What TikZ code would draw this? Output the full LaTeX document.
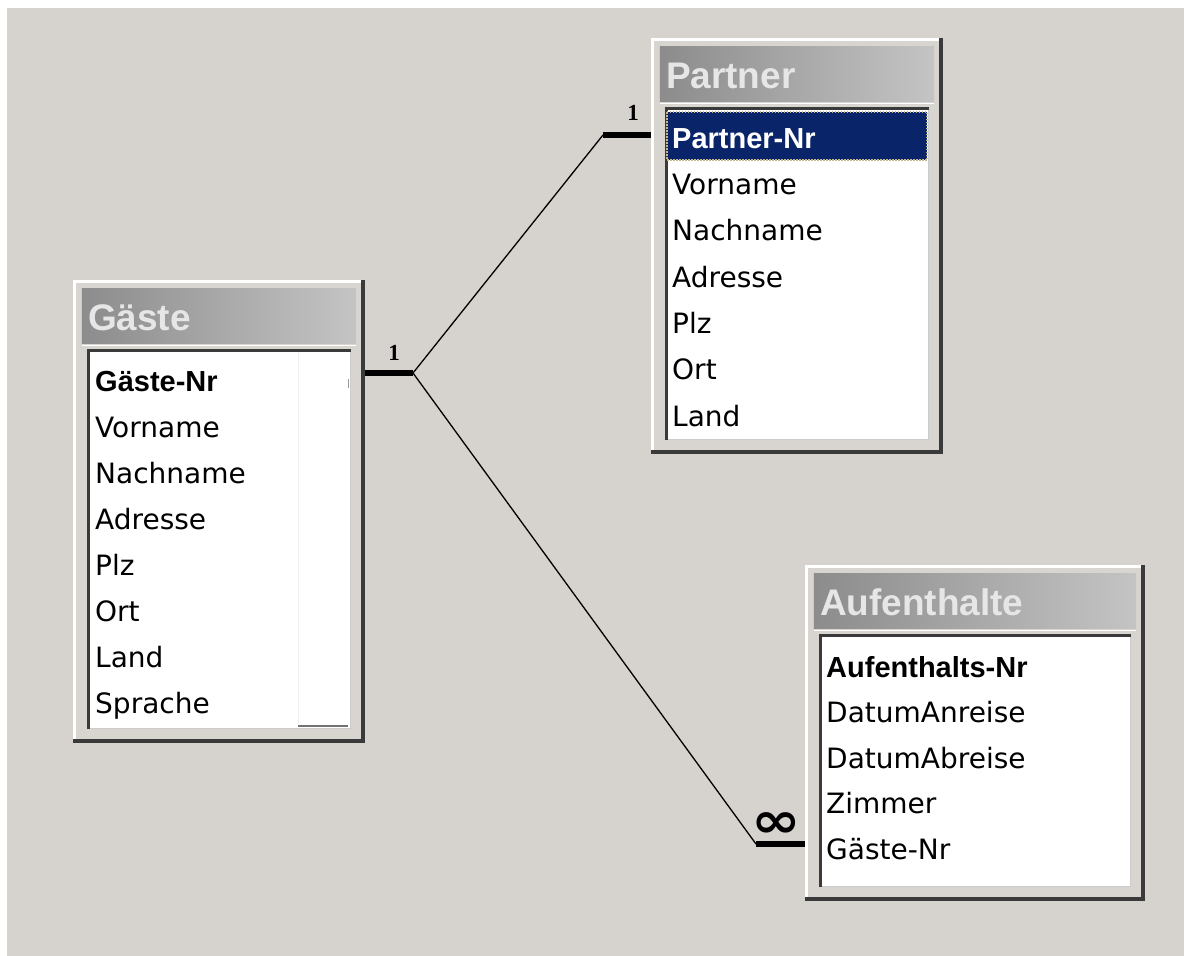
\documentclass[tikz,border=0pt]{standalone}
\usepackage{fontspec}
\setmainfont{DejaVu Sans}
\newfontfamily\lsans{Liberation Sans}
\newfontfamily\lserif{Liberation Serif}
\usetikzlibrary{calc,fit}
\definecolor{bg}{HTML}{D6D2CE}
\definecolor{face}{HTML}{D8D4D0}
\definecolor{darkedge}{HTML}{3A3A3A}
\definecolor{tleft}{HTML}{8C8C8C}
\definecolor{tright}{HTML}{C4C4C4}
\definecolor{ttext}{HTML}{E6E6E6}
\definecolor{selblue}{HTML}{0A246A}
\definecolor{focusdot}{HTML}{C8B890}
\tikzset{
  field/.style={anchor=base west, inner sep=0pt, font=\fontsize{28}{30}\selectfont, text=black},
  keyfield/.style={anchor=base west, inner sep=0pt, font=\lsans\bfseries\fontsize{29}{30}\selectfont, text=black},
  titletext/.style={anchor=base west, inner sep=0pt, font=\lsans\bfseries\fontsize{37}{40}\selectfont, text=ttext},
  relbar/.style={line width=6.5pt, black},
  relline/.style={line width=1.3pt, black},
  cardlabel/.style={inner sep=0pt, font=\lserif\bfseries\fontsize{23}{23}\selectfont},
  manylabel/.style={inner sep=0pt, font=\bfseries\fontsize{34}{34}\selectfont},
}
\newcommand\tablewin[4]{%
  \path (#2) coordinate (#1-nw) (#3) coordinate (#1-se);
  \node[inner sep=0pt, fit=(#1-nw)(#1-se)] (#1) {};
  \fill[face] (#1.north west) rectangle (#1.south east);
  \draw[white, line width=3pt] ($(#1.south west)+(1.5,0)$) -- ($(#1.north west)+(1.5,1.5)$) -- ($(#1.north east)+(0,1.5)$);
  \draw[darkedge, line width=4pt] ($(#1.north east)+(-2,0)$) -- ($(#1.south east)+(-2,-2)$) -- ($(#1.south west)+(0,-2)$);
  \shade[left color=tleft, right color=tright] ($(#1.north west)+(9,9)$) rectangle ($(#1.north east)+(-9,64)$);
  \draw[white, line width=1.5pt] ($(#1.north west)+(9,65.5)$) -- ($(#1.north east)+(-9,65.5)$);
  \fill[white] ($(#1.north west)+(14,69)$) rectangle ($(#1.south east)+(-14,-14)$);
  \draw[darkedge, line width=3pt] ($(#1.south west)+(15.5,-14)$) -- ($(#1.north west)+(15.5,70.5)$) -- ($(#1.north east)+(-14,70.5)$);
  \draw[black!20, line width=1.5pt] ($(#1.north east)+(-14.75,72)$) -- ($(#1.south east)+(-14.75,-14.75)$) -- ($(#1.south west)+(17,-14.75)$);
  \node[titletext] (#1-title) at ($(#1.north west)+(15,51)$) {#4};
}
\begin{document}
\begin{tikzpicture}[x=1pt,y=-1pt]
\useasboundingbox (0,0) rectangle (1184,956);
\fill[white] (0,0) rectangle (1184,956);
\fill[bg] (7,8) rectangle (1184,956);

% tables
\tablewin{G}{73,280}{365,743}{Gäste}
\tablewin{P}{651,38}{943,454}{Partner}
\tablewin{A}{805,565}{1145,901}{Aufenthalte}

% Gäste scrollbar remnants
\draw[black!6, line width=1pt] (298,352) -- (298,724);
\draw[black!55, line width=1.2pt] (298,726) -- (348,726);
\draw[black!40, line width=1pt] (348,379) -- (348,388);

% Gäste fields
\node[keyfield] (g1) at (95,391) {Gäste-Nr};
\node[field] (g2) at (95,437) {Vorname};
\node[field] (g3) at (95,483) {Nachname};
\node[field] (g4) at (95,529) {Adresse};
\node[field] (g5) at (95,575) {Plz};
\node[field] (g6) at (95,621) {Ort};
\node[field] (g7) at (95,667) {Land};
\node[field] (g8) at (95,713) {Sprache};

% Partner fields
\fill[selblue] (667,112) rectangle (927,160);
\draw[focusdot, line width=1.5pt, dash pattern=on 1.5pt off 1.5pt] (667,112) rectangle (927,160);
\node[keyfield, text=white] (p1) at (672,148) {Partner-Nr};
\node[field] (p2) at (672,194.5) {Vorname};
\node[field] (p3) at (672,240.5) {Nachname};
\node[field] (p4) at (672,287) {Adresse};
\node[field] (p5) at (672,333) {Plz};
\node[field] (p6) at (672,379.5) {Ort};
\node[field] (p7) at (672,426) {Land};

% Aufenthalte fields
\node[keyfield] (a1) at (826,677) {Aufenthalts-Nr};
\node[field] (a2) at (826,722.5) {DatumAnreise};
\node[field] (a3) at (826,768) {DatumAbreise};
\node[field] (a4) at (826,813.5) {Zimmer};
\node[field] (a5) at (826,859) {Gäste-Nr};

% relationships
\coordinate (gj) at (413,373);
\coordinate (pj) at (603,135);
\coordinate (aj) at (756,844);
\draw[relline] (gj) -- (pj);
\draw[relline] (gj) -- (aj);
\draw[relbar] (G.east |- gj) -- (gj);
\draw[relbar] (pj) -- (P.west |- pj);
\draw[relbar] (aj) -- (A.west |- aj);
\node[cardlabel] (gl) at (394,353) {1};
\node[cardlabel] (pl) at (633,113) {1};
\node[manylabel] (al) at (776,825) {\scalebox{1.75}[1.45]{∞}};
\end{tikzpicture}
\end{document}
